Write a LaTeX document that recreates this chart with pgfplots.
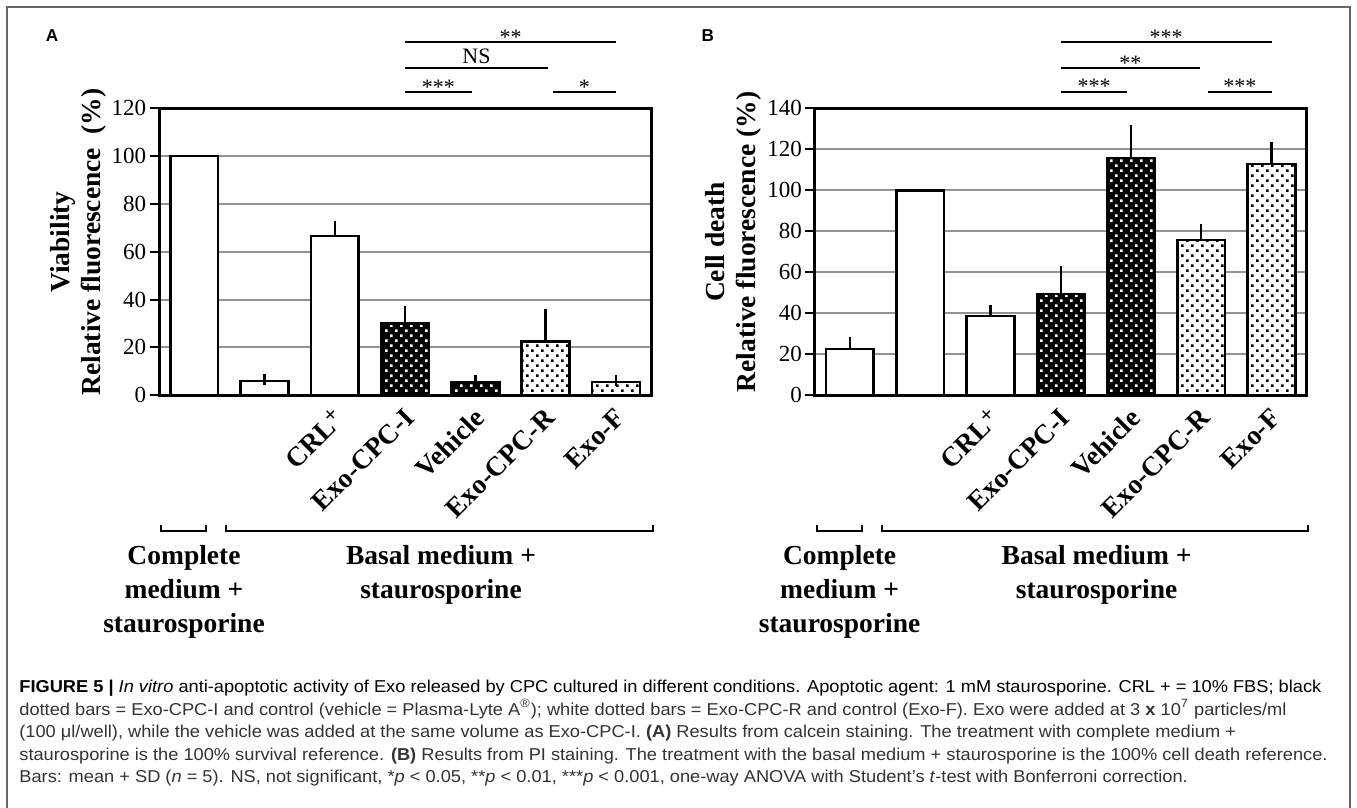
\documentclass[border=0pt]{standalone}
\usepackage{fontspec}
\setmainfont{Liberation Serif}
\newfontfamily\capfont{Liberation Sans}
\usepackage{graphicx}
\usepackage{pgfplots}
\pgfplotsset{compat=1.18}
\usetikzlibrary{patterns}

\pgfdeclarepatternformonly{dotsA}{\pgfqpoint{0pt}{0pt}}{\pgfqpoint{5.2pt}{5.2pt}}{\pgfqpoint{5.2pt}{5.2pt}}{%
 \pgfpathrectangle{\pgfqpoint{0.65pt}{0.65pt}}{\pgfqpoint{1.3pt}{1.3pt}}%
 \pgfpathrectangle{\pgfqpoint{3.25pt}{3.25pt}}{\pgfqpoint{1.3pt}{1.3pt}}%
 \pgfusepath{fill}}

\newcommand{\lbl}{\bfseries\fontsize{13.75}{16}\selectfont}
\newcommand{\capsz}{\capfont\fontsize{8.6}{11}\selectfont}
\newcommand{\crl}{CRL\raisebox{0.28em}{\fontsize{11}{12}\selectfont+}}
\newsavebox\capbox

\tikzset{sig/.style={line width=1pt}, cat/.style={rotate=45, anchor=east, inner sep=0pt, font=\lbl}}
\pgfplotsset{
  bars/.style={ybar, bar width=0.68, draw=black, line width=1.3pt},
  errs/.style={error bars/y dir=plus, error bars/y explicit,
    error bars/error bar style={line width=1.2pt, black},
    error bars/error mark options={line width=1.2pt, mark size=2.75pt, black}},
  panel/.style={scale only axis, width=246pt, height=143.5pt, anchor=south west,
    xmin=-0.5, xmax=6.5, ymin=0, xtick=\empty,
    ytick pos=left, tick align=outside, major tick length=4.75pt,
    every tick/.style={black, line width=1pt},
    axis line style={line width=1.5pt},
    ymajorgrids, grid style={color=gray!85, line width=1pt},
    /pgf/number format/assume math mode=true,
    yticklabel style={font=\fontsize{11.5}{12}\selectfont, inner sep=0pt, xshift=-1.5pt},
    clip=false},
}

\begin{document}
\sbox\capbox{\capsz\textbf{FIGURE 5 |} \textit{In vitro} anti-apoptotic activity of Exo released by CPC cultured in different conditions. Apoptotic agent: 1 mM staurosporine. CRL + = 10\% FBS; black}%
\pgfmathsetmacro{\capscale}{651/\the\wd\capbox}%
\begin{tikzpicture}
\path[use as bounding box] (0,0) rectangle (678.5pt,404pt);

\begin{scope}[x=0.5pt,y=-0.5pt,shift={(0pt,404pt)}]
  % frame
  \draw[black!60, line width=0.8pt] (7,808) -- (7,7) -- (1350,7) -- (1350,808);
  % panel letters
  \node[anchor=base west, inner sep=0pt, font=\capfont\bfseries\fontsize{8.6}{10}\selectfont] at (45.5,41.7) {A};
  \node[anchor=base west, inner sep=0pt, font=\capfont\bfseries\fontsize{8.6}{10}\selectfont] at (701.1,41.7) {B};
  % y labels
  \node[rotate=90, anchor=base, inner sep=0pt, font=\lbl] at (69,242) {Viability};
  \node[rotate=90, anchor=base, inner sep=0pt, font=\lbl] at (100,242) {Relative fluorescence\ \ (\%)};
  \node[rotate=90, anchor=base, inner sep=0pt, font=\lbl] at (724.6,242) {Cell death};
  \node[rotate=90, anchor=base, inner sep=0pt, font=\lbl] at (755.6,242) {Relative fluorescence (\%)};
  % brackets and group labels
  \foreach \dx in {0,655.6}{
    \draw[line width=1pt] (161.3+\dx,525) -- (161.3+\dx,531) -- (206+\dx,531) -- (206+\dx,525);
    \draw[line width=1pt] (226.4+\dx,525) -- (226.4+\dx,531) -- (652.6+\dx,531) -- (652.6+\dx,525);
    \node[anchor=base, inner sep=0pt, font=\lbl] at (184+\dx,565) {Complete};
    \node[anchor=base, inner sep=0pt, font=\lbl] at (184+\dx,599) {medium +};
    \node[anchor=base, inner sep=0pt, font=\lbl] at (184+\dx,633) {staurosporine};
    \node[anchor=base, inner sep=0pt, font=\lbl] at (441+\dx,565) {Basal medium +};
    \node[anchor=base, inner sep=0pt, font=\lbl] at (441+\dx,599) {staurosporine};
  }
  % caption
  \begin{scope}[every node/.style={anchor=base west, inner sep=0pt, text=black!80}]
  \node at (19,693) {\scalebox{\capscale}[1]{\usebox\capbox}};
  \node at (19,715.5) {\scalebox{\capscale}[1]{\capsz dotted bars = Exo-CPC-I and control (vehicle = Plasma-Lyte A\textsuperscript{®}); white dotted bars = Exo-CPC-R and control (Exo-F). Exo were added at 3 \textbf{x} 10\textsuperscript{7} particles/ml}};
  \node at (19,738) {\scalebox{\capscale}[1]{\capsz (100 μl/well), while the vehicle was added at the same volume as Exo-CPC-I. \textbf{(A)} Results from calcein staining. The treatment with complete medium +}};
  \node at (19,760.5) {\scalebox{\capscale}[1]{\capsz staurosporine is the 100\% survival reference. \textbf{(B)} Results from PI staining. The treatment with the basal medium + staurosporine is the 100\% cell death reference.}};
  \node at (19,783) {\scalebox{\capscale}[1]{\capsz Bars: mean + SD (\textit{n} = 5). NS, not significant, *\textit{p} < 0.05, **\textit{p} < 0.01, ***\textit{p} < 0.001, one-way ANOVA with Student’s \textit{t}-test with Bonferroni correction.}};
  \end{scope}
\end{scope}

% ---------------- Panel A ----------------
\begin{axis}[panel, at={(79.55pt,206.35pt)}, ymax=120, ytick={0,20,...,120}]
  \addplot[bars, fill=white] coordinates {(0,100)};
  \addplot[bars, fill=white, errs] coordinates {(1,6.0) +- (0,0.7) (2,66.6) +- (0,3.9)};
  \addplot[bars, fill=black] coordinates {(3,30.1) (4,5.6)};
  \addplot[bars, pattern=dotsA, pattern color=white, errs] coordinates {(3,30.1) +- (0,4.9) (4,5.6) +- (0,0.7)};
  \addplot[bars, fill=white] coordinates {(5,22.6) (6,5.6)};
  \addplot[bars, pattern=dotsA, pattern color=black, errs] coordinates {(5,22.6) +- (0,11.0) (6,5.6) +- (0,0.5)};
  % significance
  \draw[sig] (axis cs:3,126.8) -- (axis cs:3.95,126.8);
  \node[anchor=base, inner sep=0pt, font=\fontsize{11}{12}\selectfont] at ([yshift=-1pt]axis cs:3.475,126.8) {***};
  \draw[sig] (axis cs:5.1,126.8) -- (axis cs:6,126.8);
  \node[anchor=base, inner sep=0pt, font=\fontsize{11}{12}\selectfont] at ([yshift=-1pt]axis cs:5.55,126.8) {*};
  \draw[sig] (axis cs:3,136.7) -- (axis cs:5.03,136.7);
  \node[anchor=base, inner sep=0pt, font=\fontsize{11}{12}\selectfont] at ([yshift=2.5pt]axis cs:4.015,136.7) {NS};
  \draw[sig] (axis cs:3,147.6) -- (axis cs:6,147.6);
  \node[anchor=base, inner sep=0pt, font=\fontsize{11}{12}\selectfont] at ([yshift=-1pt]axis cs:4.5,147.6) {**};
  % category labels
  \node[cat] at ([xshift=2.3pt,yshift=-9pt]axis cs:2,0) {\crl};
  \node[cat] at ([xshift=2.3pt,yshift=-9pt]axis cs:3,0) {Exo-CPC-I};
  \node[cat] at ([xshift=2.3pt,yshift=-9pt]axis cs:4,0) {Vehicle};
  \node[cat] at ([xshift=2.3pt,yshift=-9pt]axis cs:5,0) {Exo-CPC-R};
  \node[cat] at ([xshift=2.3pt,yshift=-9pt]axis cs:6,0) {Exo-F};
\end{axis}

% ---------------- Panel B ----------------
\begin{axis}[panel, at={(407.35pt,206.35pt)}, ymax=140, ytick={0,20,...,140}]
  \addplot[bars, fill=white, errs] coordinates {(0,22.6) +- (0,3.1)};
  \addplot[bars, fill=white] coordinates {(1,100)};
  \addplot[bars, fill=white, errs] coordinates {(2,38.7) +- (0,2.6)};
  \addplot[bars, fill=black] coordinates {(3,49.4) (4,115.8)};
  \addplot[bars, pattern=dotsA, pattern color=white, errs] coordinates {(3,49.4) +- (0,10.9) (4,115.8) +- (0,13.6)};
  \addplot[bars, fill=white] coordinates {(5,75.8) (6,112.8)};
  \addplot[bars, pattern=dotsA, pattern color=black, errs] coordinates {(5,75.8) +- (0,5.3) (6,112.8) +- (0,8.0)};
  % significance
  \draw[sig] (axis cs:3,148.1) -- (axis cs:3.95,148.1);
  \node[anchor=base, inner sep=0pt, font=\fontsize{11}{12}\selectfont] at ([yshift=-1pt]axis cs:3.475,148.1) {***};
  \draw[sig] (axis cs:5.1,148.1) -- (axis cs:6,148.1);
  \node[anchor=base, inner sep=0pt, font=\fontsize{11}{12}\selectfont] at ([yshift=-1pt]axis cs:5.55,148.1) {***};
  \draw[sig] (axis cs:3,159.5) -- (axis cs:4.98,159.5);
  \node[anchor=base, inner sep=0pt, font=\fontsize{11}{12}\selectfont] at ([yshift=-1pt]axis cs:3.99,159.5) {**};
  \draw[sig] (axis cs:3,172.2) -- (axis cs:6,172.2);
  \node[anchor=base, inner sep=0pt, font=\fontsize{11}{12}\selectfont] at ([yshift=-1pt]axis cs:4.5,172.2) {***};
  % category labels
  \node[cat] at ([xshift=2.3pt,yshift=-9pt]axis cs:2,0) {\crl};
  \node[cat] at ([xshift=2.3pt,yshift=-9pt]axis cs:3,0) {Exo-CPC-I};
  \node[cat] at ([xshift=2.3pt,yshift=-9pt]axis cs:4,0) {Vehicle};
  \node[cat] at ([xshift=2.3pt,yshift=-9pt]axis cs:5,0) {Exo-CPC-R};
  \node[cat] at ([xshift=2.3pt,yshift=-9pt]axis cs:6,0) {Exo-F};
\end{axis}
\end{tikzpicture}
\end{document}
